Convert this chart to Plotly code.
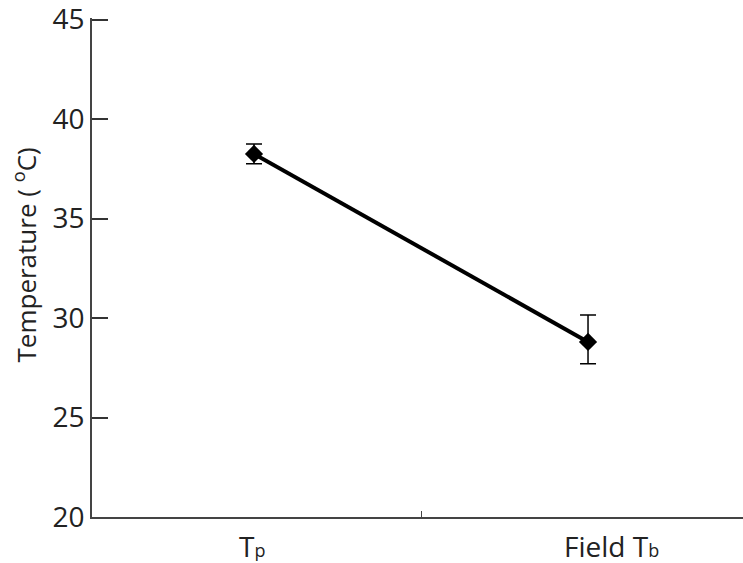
import plotly.graph_objects as go

categories = ["T<span style='font-size:18px'>p</span>", "Field T<span style='font-size:18px'>b</span>"]
means = [38.25, 28.8]
err_plus = [0.5, 1.35]
err_minus = [0.5, 1.1]
y_ticks = [20, 25, 30, 35, 40, 45]

x_idx = list(range(len(categories)))

fig = go.Figure()
fig.add_trace(go.Scatter(
    x=x_idx, y=means, mode="lines+markers",
    line=dict(color="black", width=4),
    marker=dict(symbol="diamond", size=14, color="black"),
    error_y=dict(type="data", symmetric=False, array=err_plus, arrayminus=err_minus,
                 color="black", thickness=1.5, width=8),
    showlegend=False,
))

font_family = "Open Sans, sans-serif"
label_shift = [-2, 23]
for i, c in enumerate(categories):
    fig.add_annotation(x=i, y=0, xref="x", yref="paper", text=c, showarrow=False,
                       yanchor="top", yshift=-8, xshift=label_shift[i],
                       font=dict(family=font_family, size=28, color="#222"))

fig.add_annotation(x=0, y=0.5, xref="paper", yref="paper", text="Temperature ( <sup>o</sup>C)",
                   textangle=-90, showarrow=False, xanchor="center", yanchor="middle",
                   xshift=-67, yshift=12,
                   font=dict(family=font_family, size=26, color="#222"))

fig.update_layout(
    width=743, height=563,
    margin=dict(l=92, r=0, t=18, b=46),
    plot_bgcolor="white", paper_bgcolor="white",
    xaxis=dict(range=[-0.485, 1.464], tickvals=[0.5], ticktext=[""], ticks="inside",
               ticklen=6, tickcolor="#444", showline=True, linecolor="#444", linewidth=1.5,
               showgrid=False, zeroline=False),
    yaxis=dict(range=[20, 45.08], tickmode="array", tickvals=y_ticks, ticks="inside", ticklen=16,
               tickcolor="#333", tickwidth=1.5, showline=True, linecolor="#444", linewidth=1.5,
               showgrid=False, zeroline=False, ticklabeloverflow="allow",
               tickfont=dict(family=font_family, size=28, color="#222")),
)

fig.write_html("out.html", config={"displayModeBar": False},
               post_script="document.body.style.margin='0';document.body.style.overflow='hidden';")
